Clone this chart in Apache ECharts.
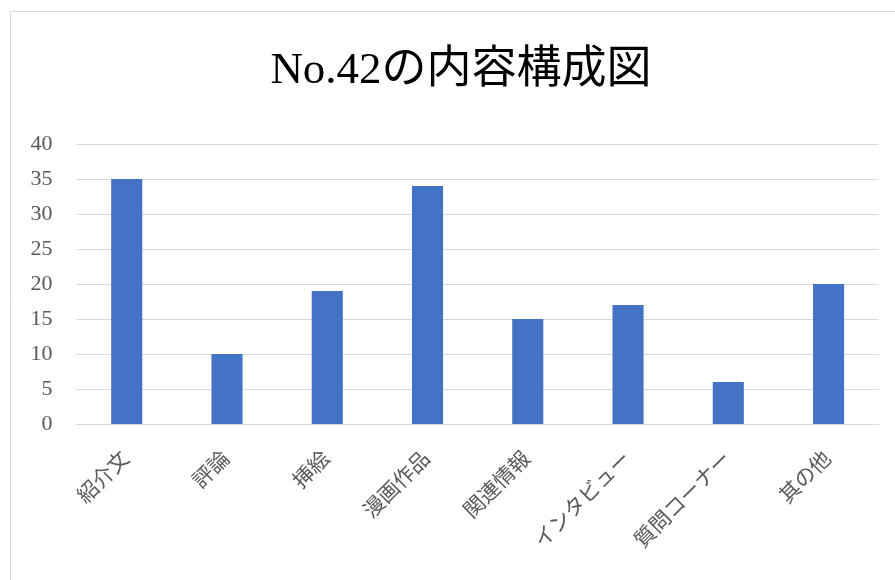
<!DOCTYPE html>
<html><head><meta charset="utf-8">
<script src="https://cdn.jsdelivr.net/npm/echarts@6/dist/echarts.min.js"></script>
<style>html,body{margin:0;padding:0;background:#fff}#c{width:895px;height:580px}</style>
</head><body><div id="c"></div>
<script>
const titleText = "No.42の内容構成図";
const categories = ["紹介文","評論","挿絵","漫画作品","関連情報","インタビュー","質問コーナー","其の他"];
const values = [35,10,19,34,15,17,6,20];
const yMin = 0, yMax = 40, yInterval = 5;

const serif = '"Liberation Serif","DejaVu Serif","Noto Sans CJK JP",serif';
const chart = echarts.init(document.getElementById('c'));
chart.setOption({
  backgroundColor: '#fff',
  animation: false,
  graphic: [{
    type: 'rect', silent: true,
    shape: { x: 10.5, y: 11.5, width: 1000, height: 1000 },
    style: { fill: 'none', stroke: '#D9D9D9', lineWidth: 1 }
  }],
  title: {
    text: titleText, left: 456, top: 44, textAlign: 'center',
    textStyle: { fontFamily: serif, fontSize: 45, fontWeight: 'normal', color: '#000' }
  },
  grid: { left: 76.6, right: 16.3, top: 144, bottom: 156, containLabel: false },
  xAxis: {
    type: 'category', data: categories,
    axisLine: { show: true, lineStyle: { color: '#D9D9D9', width: 1 } },
    axisTick: { show: false },
    axisLabel: { rotate: 45, interval: 0, margin: 32, fontSize: 21, color: '#595959', fontFamily: serif }
  },
  yAxis: {
    type: 'value', min: yMin, max: yMax, interval: yInterval,
    axisLine: { show: false }, axisTick: { show: false },
    splitLine: { lineStyle: { color: '#D9D9D9', width: 1 } },
    axisLabel: { fontSize: 22, color: '#595959', fontFamily: serif, margin: 24 }
  },
  series: [{
    type: 'bar', data: values, barWidth: '31%',
    itemStyle: { color: '#4472C4' }
  }]
});
</script></body></html>
